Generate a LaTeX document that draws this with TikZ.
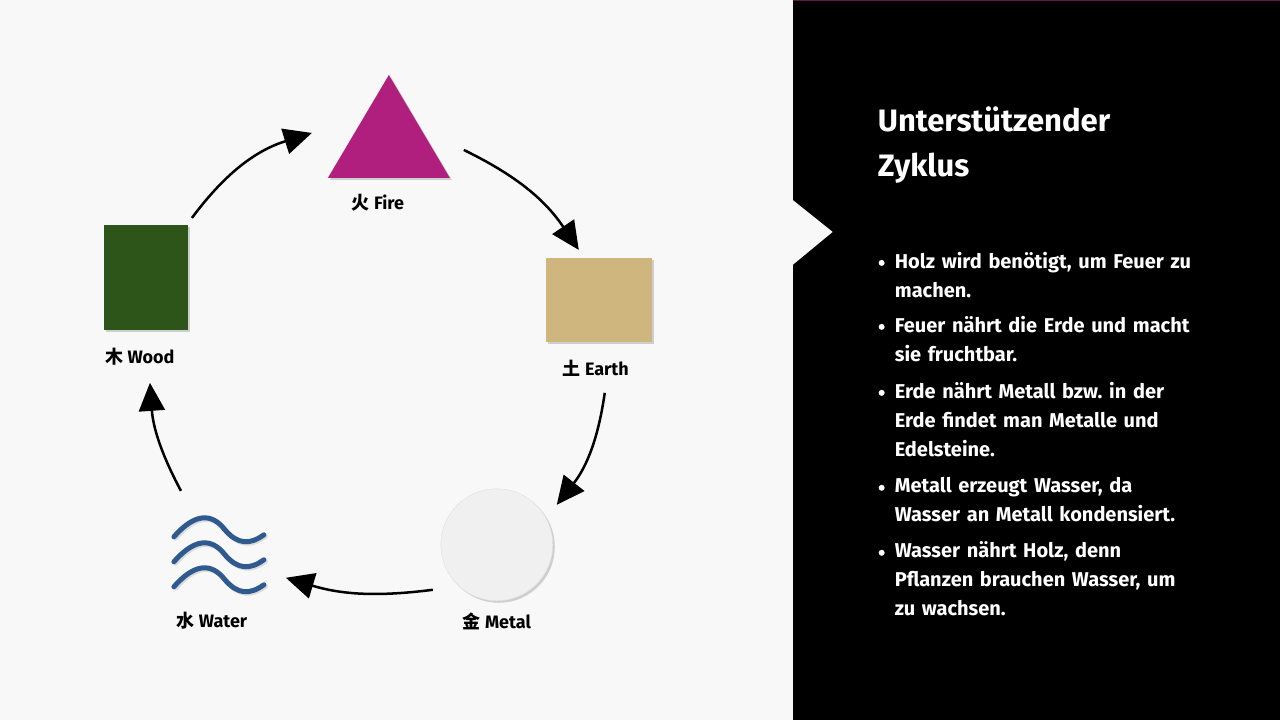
\documentclass[tikz,border=0pt]{standalone}
\usepackage{fontspec}
\setmainfont{Fira Sans}
\newfontfamily\cjk{Noto Sans CJK SC}
\usetikzlibrary{arrows.meta,shadows}
\definecolor{firecol}{RGB}{176,30,126}
\definecolor{earthcol}{RGB}{207,181,126}
\definecolor{woodcol}{RGB}{46,85,25}
\definecolor{watercol}{RGB}{47,90,143}
\definecolor{bgcol}{RGB}{248,248,248}

\begin{document}
\begin{tikzpicture}[x=1pt,y=-1pt]

	\tikzstyle{elem_label} = [font=\fontsize{18}{20}\selectfont\bfseries, text=black]
	\tikzstyle{cycle_arrow} = [-{Triangle[length=28pt,width=26pt]}, line width=2.5pt, black]
	\tikzstyle{shade_drop} = [drop shadow={shadow xshift=2pt,shadow yshift=-2pt,opacity=0.35}]
	\tikzstyle{bullet_text} = [anchor=north west, align=left, text=white, text width=300pt,
		font=\fontsize{20}{29}\selectfont\bfseries, inner sep=0pt]

%------------------------------------------------------------
	\fill[bgcol] (0,0) rectangle (793,720);
	\fill[black] (793,0) rectangle (1280,720);
	\draw[firecol!60!black, line width=1pt] (793,0.5) -- (1280,0.5);
	\fill[bgcol] (793,200) -- (833,232) -- (793,265) -- cycle;
	\useasboundingbox (0,0) rectangle (1280,720);

%------------------------------------------------------------
	\fill[firecol, shade_drop] (328,178) -- (450,178) -- (389,75) -- cycle;
	\node[elem_label] (fire) at (378,203) {{\cjk 火} Fire};

	\node[fill=earthcol, shade_drop, minimum width=106pt, minimum height=84pt, inner sep=0pt] (earth) at (599,300) {};
	\node[elem_label] (earthlbl) at (596,368) {{\cjk 土} Earth};

	\node[fill=woodcol, shade_drop, minimum width=84pt, minimum height=105pt, inner sep=0pt] (wood) at (146,278) {};
	\node[elem_label] (woodlbl) at (140,357) {{\cjk 木} Wood};

	\node[circle, fill=gray!12, draw=gray!25, shade_drop, minimum size=112pt] (metal) at (497,545) {};
	\node[elem_label] (metallbl) at (497,622) {{\cjk 金} Metal};

	\foreach \dy in {0,25,50} {
		\draw[gray!50, line width=5pt, line cap=round, opacity=0.5] (175.5,538.5+\dy) .. controls (196.5,514.5+\dy) and (213.5,514.5+\dy) .. (226.5,531.5+\dy) .. controls (239.5,546.5+\dy) and (251.5,546.5+\dy) .. (265.5,536.5+\dy);
		\draw[watercol, line width=5pt, line cap=round] (174,537+\dy) .. controls (195,513+\dy) and (212,513+\dy) .. (225,530+\dy) .. controls (238,545+\dy) and (250,545+\dy) .. (264,535+\dy);
	}
	\node[elem_label] (waterlbl) at (212,621) {{\cjk 水} Water};

%------------------------------------------------------------
	\coordinate (a1s) at (192,218); \coordinate (a1e) at (312,133);
	\coordinate (a2s) at (464,150); \coordinate (a2e) at (579,250);
	\coordinate (a3s) at (605,393); \coordinate (a3e) at (557,505);
	\coordinate (a4s) at (433,590); \coordinate (a4e) at (286,578);
	\coordinate (a5s) at (181,491); \coordinate (a5e) at (150,383);

	\draw[cycle_arrow] (a1s) to[bend left=18] (a1e);
	\draw[cycle_arrow] (a2s) to[bend left=15] (a2e);
	\draw[cycle_arrow] (a3s) to[bend left=15] (a3e);
	\draw[cycle_arrow] (a4s) to[bend left=12] (a4e);
	\draw[cycle_arrow] (a5s) to[bend left=12] (a5e);

%------------------------------------------------------------
	\node[anchor=north west, align=left, text=white, inner sep=0pt,
		font=\fontsize{31}{45}\selectfont\bfseries] (title) at (878,107) {Unterstützender\\Zyklus};

	\foreach \y/\txt in {252/{Holz wird benötigt, um Feuer zu machen.},
			316/{Feuer nährt die Erde und macht sie fruchtbar.},
			382/{Erde nährt Metall bzw.\ in der Erde findet man Metalle und Edelsteine.},
			477/{Metall erzeugt Wasser, da Wasser an Metall kondensiert.},
			542/{Wasser nährt Holz, denn Pflanzen brauchen Wasser, um zu wachsen.}} {
		\fill[white] (882,\y+11) circle (3pt);
		\node[bullet_text] at (895,\y) {\txt};
	}

\end{tikzpicture}
\end{document}
